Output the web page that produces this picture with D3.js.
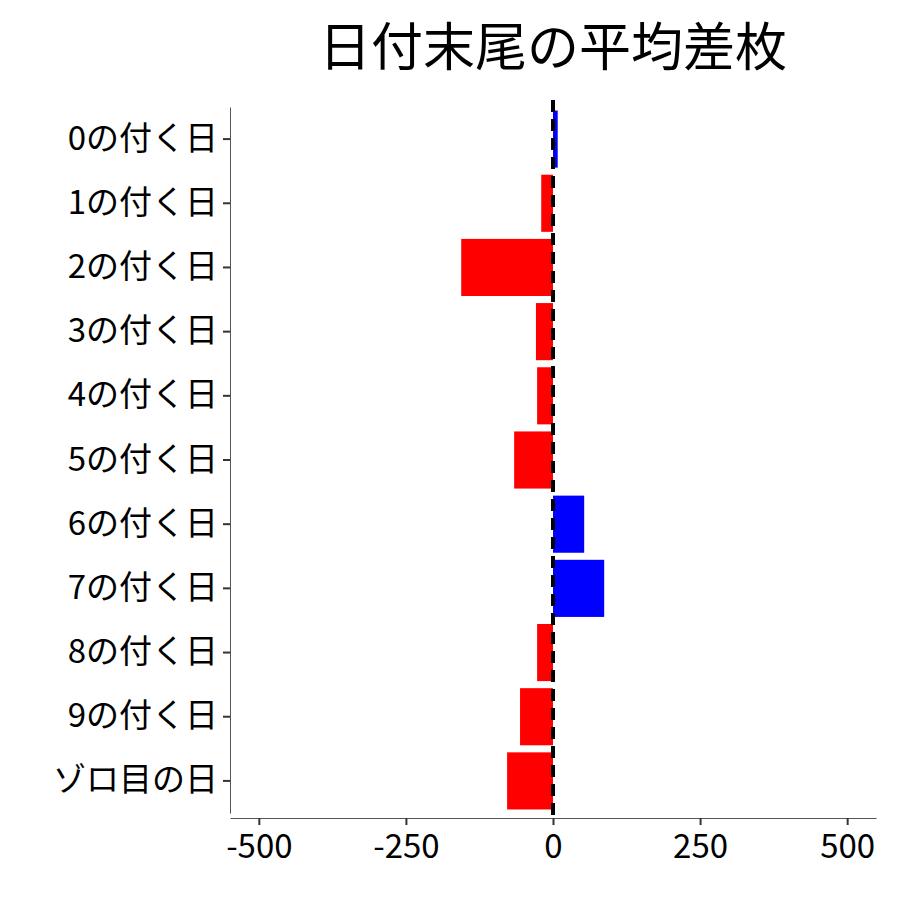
<!DOCTYPE html>
<html><head><meta charset="utf-8">
<script src="https://cdn.jsdelivr.net/npm/d3@7"></script>
<style>body{margin:0;background:#fff}text{font-family:"Noto Sans CJK JP",sans-serif}</style>
</head><body><svg id="chart"></svg>
<script>
const categories = ["0の付く日","1の付く日","2の付く日","3の付く日","4の付く日","5の付く日","6の付く日","7の付く日","8の付く日","9の付く日","ゾロ目の日"];
const values = [8, -20, -156, -29, -27, -66, 53, 87, -27, -56, -78];
const xTicks = [-500, -250, 0, 250, 500];

const margin = {top: 100, right: 24, bottom: 82, left: 230};
const width = 900 - margin.left - margin.right;
const height = 900 - margin.top - margin.bottom;

const svg = d3.select('#chart').attr('width', 900).attr('height', 900);
const g = svg.append('g').attr('transform', `translate(${margin.left},${margin.top})`);

const x = d3.scaleLinear().domain([-549, 549]).range([0, width]);
const y = d3.scaleBand().domain(categories).range([7, height - 5]).paddingInner(0.11).paddingOuter(0.055);

g.selectAll('rect').data(values).enter().append('rect')
    .attr('x', (d) => x(Math.min(0, d)))
    .attr('width', (d) => Math.abs(x(d) - x(0)))
    .attr('y', (d, i) => y(categories[i]))
    .attr('height', y.bandwidth())
    .attr('fill', (d) => d >= 0 ? '#0000ff' : '#ff0000');

g.append('line')
    .attr('x1', x(0)).attr('x2', x(0)).attr('y1', 0).attr('y2', height)
    .attr('stroke', '#000').attr('stroke-width', 4).attr('stroke-dasharray', '12,7');

const xaxis = g.append('g').attr('transform', `translate(0,${height})`)
    .call(d3.axisBottom(x).tickValues(xTicks).tickSize(7).tickSizeOuter(0).tickPadding(5).tickFormat((d) => String(d)));
const yaxis = g.append('g').call(d3.axisLeft(y).tickSize(7).tickSizeOuter(0).tickPadding(5));
[xaxis, yaxis].forEach((a) => {
    a.select('.domain').attr('stroke', '#555');
    a.selectAll('.tick line').attr('stroke', '#333').attr('stroke-width', 2);
    a.selectAll('text').attr('fill', '#000').style('font-size', '33px');
});
xaxis.selectAll('text').attr('dy', '0.85em');

svg.append('text').attr('x', margin.left + width / 2).attr('y', 66)
    .attr('text-anchor', 'middle').style('font-size', '52px').text('日付末尾の平均差枚');
</script></body></html>
